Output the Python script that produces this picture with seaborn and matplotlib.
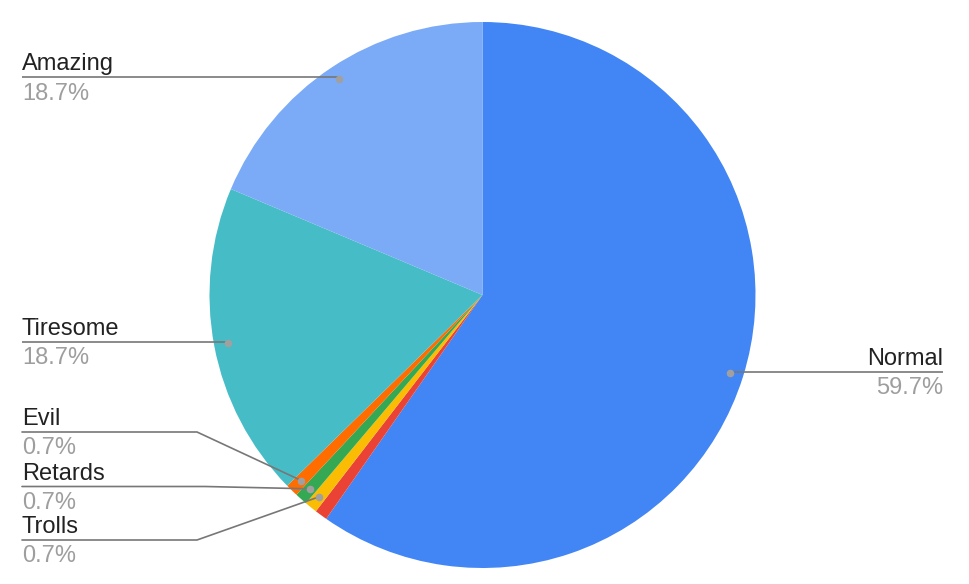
import numpy as np
import matplotlib
matplotlib.use("Agg")
import matplotlib.pyplot as plt
import seaborn as sns

# ---- data ----
categories = ["Normal", "Other", "Trolls", "Retards", "Evil", "Tiresome", "Amazing"]
counts = [80, 1, 1, 1, 1, 25, 25]
show_label = [True, False, True, True, True, True, True]
colors = sns.color_palette(["#4285F4", "#EA4335", "#FBBC04", "#34A853",
                            "#FF6D01", "#46BDC6", "#7BAAF7"])

sns.set_style("white")
plt.rcParams['font.family'] = ['Liberation Sans', 'DejaVu Sans']

W, H = 970, 584
fig = plt.figure(figsize=(W / 100, H / 100), dpi=100)
ax = fig.add_axes([0, 0, 1, 1])

def Y(py):
    return H - py

cx, cy, R = 482.5, Y(295), 273
wedges, _ = ax.pie(counts, colors=colors, startangle=90, counterclock=False,
                   center=(cx, cy), radius=R, wedgeprops=dict(linewidth=0))
ax.set_xlim(0, W)
ax.set_ylim(0, H)
ax.set_aspect('equal')
ax.axis('off')

total = sum(counts)
pcts = [f"{100 * c / total:.1f}%" for c in counts]

# label layout: (side, text x, line y in px, optional corner x)
layout = {
    "Normal":   ("right", 943, 372, None),
    "Amazing":  ("left", 22, 77, None),
    "Tiresome": ("left", 22, 342, None),
    "Evil":     ("left", 22, 432, 197),
    "Retards":  ("left", 22, 486.5, 205),
    "Trolls":   ("left", 22, 540, 197),
}

line_col = "#777777"
dot_col = "#A0A0A0"
for w, name, pct, show in zip(wedges, categories, pcts, show_label):
    if not show:
        continue
    mid = np.deg2rad((w.theta1 + w.theta2) / 2)
    dx = cx + 0.95 * R * np.cos(mid)
    dy = cy + 0.95 * R * np.sin(mid)
    side, tx, ly, corner = layout[name]
    ly_ = Y(ly)
    if corner is None:
        xs = [tx, dx]
        ys = [ly_, dy]
        ys[1] = ly_ if abs(dy - ly_) < 3 else dy
        ax.plot([tx, dx], [ly_, ly_], color=line_col, lw=1.2, solid_capstyle='butt', zorder=3)
    else:
        ax.plot([tx, corner, dx], [ly_, ly_, dy], color=line_col, lw=1.2, zorder=3)
    ax.scatter([dx], [dy], s=30, color=dot_col, zorder=4, linewidths=0)
    ha = 'left' if side == 'left' else 'right'
    ax.text(tx, ly_ + 7, name, ha=ha, va='baseline', fontsize=17, color="#222222")
    ax.text(tx, ly_ - 22.5, pct, ha=ha, va='baseline', fontsize=17, color="#9E9E9E")

fig.savefig("out.png", dpi=100)
